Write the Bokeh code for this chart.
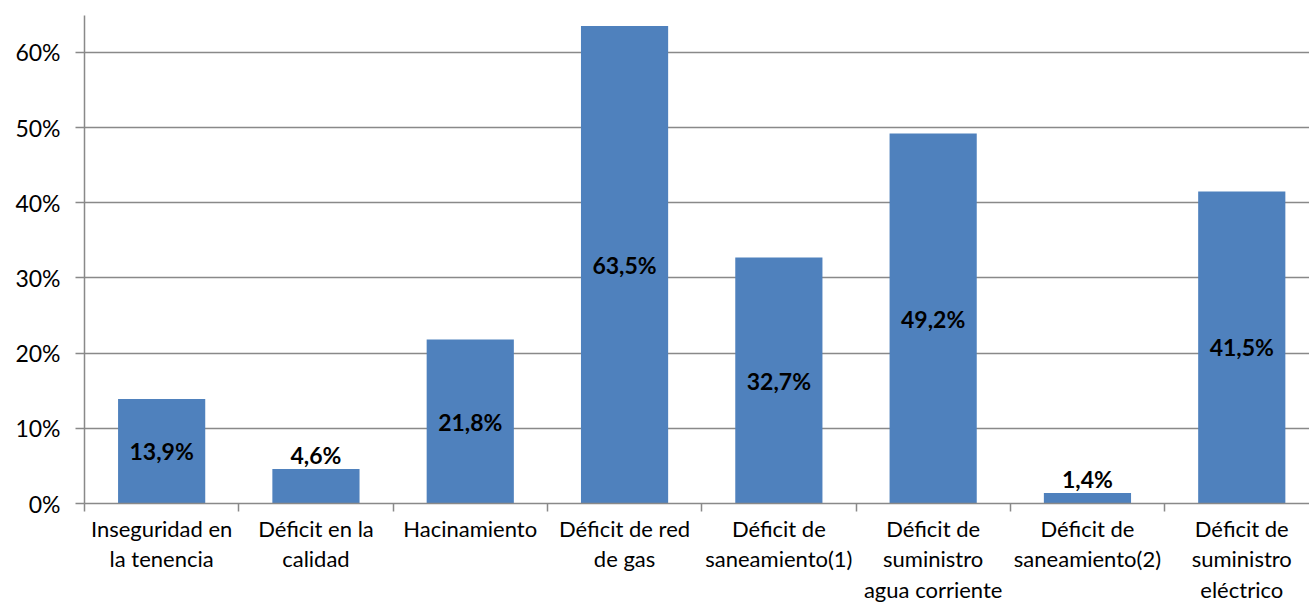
from bokeh.plotting import figure
from bokeh.models import Range1d, FixedTicker, NumeralTickFormatter, ColumnDataSource
from bokeh.core.properties import value
from bokeh.embed import file_html
from bokeh.resources import INLINE

categories = [
    "Inseguridad en\nla tenencia",
    "Déficit en la\ncalidad",
    "Hacinamiento",
    "Déficit de red\nde gas",
    "Déficit de\nsaneamiento(1)",
    "Déficit de\nsuministro\nagua corriente",
    "Déficit de\nsaneamiento(2)",
    "Déficit de\nsuministro\neléctrico",
]
values = [0.139, 0.046, 0.218, 0.635, 0.327, 0.492, 0.014, 0.415]
value_labels = ["13,9%", "4,6%", "21,8%", "63,5%", "32,7%", "49,2%", "1,4%", "41,5%"]
y_ticks = [0.0, 0.1, 0.2, 0.3, 0.4, 0.5, 0.6]

FONT = "Lato"
BAR = "#4F81BD"
GRAY = "#898989"

xs = [i + 0.5 for i in range(len(categories))]

p = figure(width=1309, height=605, output_backend="svg", toolbar_location=None,
           x_range=Range1d(0, 7.939), y_range=Range1d(0, 0.649),
           min_border_left=84, min_border_right=0, min_border_top=15, min_border_bottom=98)
p.outline_line_color = None
p.background_fill_color = "white"
p.border_fill_color = "white"

src = ColumnDataSource(dict(x=xs, top=values))
p.vbar(x="x", top="top", width=0.565, bottom=0, source=src, fill_color=BAR, line_color=None)

# labels: inside (centered) for large bars, above for small ones
in_x, in_y, in_t, out_x, out_y, out_t = [], [], [], [], [], []
for x, v, t in zip(xs, values, value_labels):
    if v >= 0.1:
        in_x.append(x); in_y.append(v / 2); in_t.append(t)
    else:
        out_x.append(x); out_y.append(v); out_t.append(t)

p.text(x=in_x, y=in_y, text=in_t, text_align="center", text_baseline="middle",
       text_font=value(FONT), text_font_style="bold", text_font_size="23px", text_color="black")
p.text(x=out_x, y=out_y, text=out_t, text_align="center", text_baseline="bottom",
       text_font=value(FONT), text_font_style="bold", text_font_size="23px", text_color="black")

# x axis
p.xaxis.ticker = FixedTicker(ticks=xs, minor_ticks=list(range(len(categories) + 1)))
p.xaxis.major_label_overrides = {x: c for x, c in zip(xs, categories)}
p.xaxis.major_tick_out = 0
p.xaxis.major_tick_in = 0
p.xaxis.minor_tick_out = 8
p.xaxis.minor_tick_in = 0
p.xaxis.minor_tick_line_color = GRAY
p.xaxis.minor_tick_line_width = 1.5
p.xaxis.axis_line_color = GRAY
p.xaxis.axis_line_width = 1.5
p.xaxis.major_label_text_font = FONT
p.xaxis.major_label_text_font_size = "22px"
p.xaxis.major_label_text_color = "black"
p.xaxis.major_label_standoff = 3
p.xaxis.major_label_text_line_height = 1.13
p.xgrid.grid_line_color = None

# y axis
p.yaxis.ticker = FixedTicker(ticks=y_ticks, minor_ticks=[])
p.yaxis.formatter = NumeralTickFormatter(format="0%")
p.yaxis.major_tick_out = 9
p.yaxis.major_tick_in = 0
p.yaxis.major_tick_line_color = GRAY
p.yaxis.major_tick_line_width = 1.5
p.yaxis.axis_line_color = GRAY
p.yaxis.axis_line_width = 1.5
p.yaxis.major_label_text_font = FONT
p.yaxis.major_label_text_font_size = "23px"
p.yaxis.major_label_text_color = "black"
p.yaxis.major_label_standoff = 15
p.ygrid.grid_line_color = GRAY
p.ygrid.grid_line_width = 1.5

open("out.html", "w").write(file_html(p, INLINE))
